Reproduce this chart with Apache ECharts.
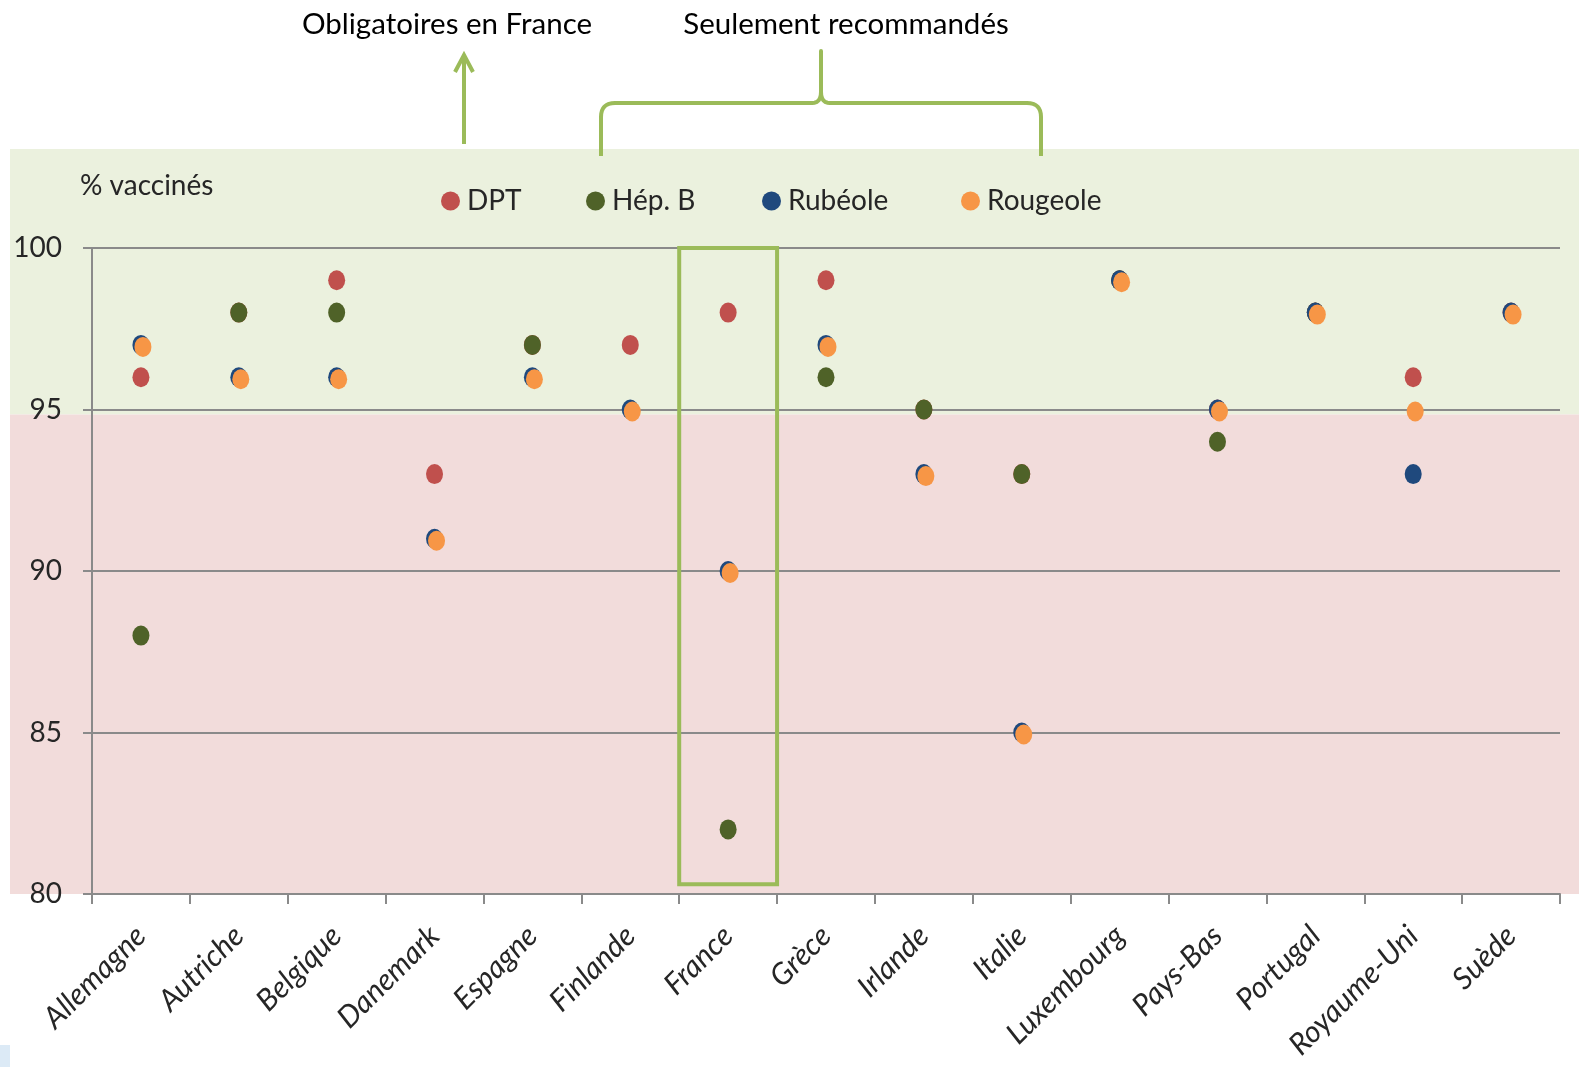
<!DOCTYPE html>
<html>
<head>
<meta charset="utf-8">
<script src="https://cdn.jsdelivr.net/npm/echarts@6/dist/echarts.min.js"></script>
<style>
html,body{margin:0;padding:0;background:#fff;}
#c{width:1579px;height:1067px;}
</style>
</head>
<body>
<div id="c"></div>
<script>
// ---- data ----
const categories = ['Allemagne','Autriche','Belgique','Danemark','Espagne','Finlande','France','Grèce','Irlande','Italie','Luxembourg','Pays-Bas','Portugal','Royaume-Uni','Suède'];
const dpt      = [96, 98, 99, 93, 97, 97, 98, 99, 95, 93, 99, 95, 98, 96, 98];
const hepB     = [88, 98, 98, '-', 97, '-', 82, 96, 95, 93, 99, 94, 98, '-', '-'];
const rubeole  = [97, 96, 96, 91, 96, 95, 90, 97, 93, 85, 99, 95, 98, 93, 98];
const rougeole = [97, 96, 96, 91, 96, 95, 90, 97, 93, 85, 99, 95, 98, 95, 98];
const yTicks = [80, 85, 90, 95, 100];
const seriesNames = ['DPT', 'Hép. B', 'Rubéole', 'Rougeole'];

const FONT = 'Lato';
const TXT = '#262626';
const colors = ['#C0504D', '#4F6228', '#1F497D', '#F79646'];
const accent = '#9BBB59';

const chart = echarts.init(document.getElementById('c'), null, {renderer: 'canvas'});

function legendFor(i, left) {
  return {
    data: [seriesNames[i]], left: left, top: 187, padding: 0,
    icon: 'circle', itemWidth: 19, itemHeight: 19, itemGap: 0,
    textStyle: {fontFamily: FONT, fontSize: 28, color: TXT, padding: [0, 0, 0, 2]},
    selectedMode: false
  };
}

function scatter(i, data, extra) {
  return Object.assign({
    name: seriesNames[i], type: 'scatter', data: data, symbol: 'circle', symbolSize: [17, 20],
    itemStyle: {color: colors[i], opacity: 1}, z: 3 + i
  }, extra || {});
}

const option = {
  animation: false,
  backgroundColor: '#fff',
  textStyle: {fontFamily: FONT},
  grid: {left: 92, right: 19, top: 248, bottom: 173, containLabel: false},
  legend: [legendFor(0, 441), legendFor(1, 586), legendFor(2, 762), legendFor(3, 961)],
  xAxis: {
    type: 'category', data: categories, boundaryGap: true,
    axisLine: {lineStyle: {color: '#8a8a8a', width: 2}},
    axisTick: {show: true, length: 10, lineStyle: {color: '#8a8a8a', width: 2}},
    axisLabel: {rotate: 45, margin: 37, fontFamily: FONT, fontSize: 30, color: TXT, fontStyle: 'italic'}
  },
  yAxis: {
    type: 'value', min: yTicks[0], max: yTicks[yTicks.length - 1], interval: 5,
    axisLine: {show: true, lineStyle: {color: '#8a8a8a', width: 2}},
    axisTick: {show: true, length: 9, lineStyle: {color: '#8a8a8a', width: 2}},
    axisLabel: {margin: 30, fontFamily: FONT, fontSize: 28, color: TXT},
    splitLine: {show: true, lineStyle: {color: '#8a8a8a', width: 2}}
  },
  series: [
    scatter(0, dpt),
    scatter(1, hepB),
    scatter(2, rubeole),
    scatter(3, rougeole, {symbolOffset: [2, 2]})
  ]
};
chart.setOption(option);

// ---- annotations positioned from the axes ----
const y95 = chart.convertToPixel({yAxisIndex: 0}, 95);
const y80 = chart.convertToPixel({yAxisIndex: 0}, 80);
const y100 = chart.convertToPixel({yAxisIndex: 0}, 100);
const yRectBottom = chart.convertToPixel({yAxisIndex: 0}, 80.3);
const xFr = chart.convertToPixel({xAxisIndex: 0}, 'France');
const xFr2 = chart.convertToPixel({xAxisIndex: 0}, 'Grèce');
const band = xFr2 - xFr;

// quadratic curve helper for the brace outline
function quad(p0, p1, p2, n) {
  const pts = [];
  for (let k = 1; k <= n; k++) {
    const t = k / n, u = 1 - t;
    pts.push([u * u * p0[0] + 2 * u * t * p1[0] + t * t * p2[0], u * u * p0[1] + 2 * u * t * p1[1] + t * t * p2[1]]);
  }
  return pts;
}
let brace = [[601, 156], [601, 117]];
brace = brace.concat(quad([601, 117], [601, 103], [615, 103], 8));
brace.push([812, 103]);
brace = brace.concat(quad([812, 103], [821, 103], [821, 92], 6));
brace.push([821, 51]);
brace.push([821, 92]);
brace = brace.concat(quad([821, 92], [821, 103], [830, 103], 6));
brace.push([1027, 103]);
brace = brace.concat(quad([1027, 103], [1041, 103], [1041, 117], 8));
brace.push([1041, 156]);

chart.setOption({
  graphic: [
    {type: 'rect', silent: true, z: -10, shape: {x: 10, y: 149, width: 1569, height: y95 + 5 - 149}, style: {fill: '#EBF1DE'}},
    {type: 'rect', silent: true, z: -10, shape: {x: 10, y: y95 + 5, width: 1569, height: y80 - y95 - 5}, style: {fill: '#F2DCDB'}},
    {type: 'rect', silent: true, z: -10, shape: {x: 0, y: 1045, width: 10, height: 22}, style: {fill: '#DCEAF6'}},
    {type: 'rect', z: 100, shape: {x: xFr - band / 2, y: y100, width: band, height: yRectBottom - y100},
      style: {fill: 'none', stroke: accent, lineWidth: 4}},
    {type: 'text', z: 100, x: 80, y: 186, style: {text: '% vaccinés', font: '28px Lato', fill: TXT, textAlign: 'left', textVerticalAlign: 'middle'}},
    {type: 'text', z: 100, x: 447, y: 24, style: {text: 'Obligatoires en France', font: '29.5px Lato', fill: '#000', textAlign: 'center', textVerticalAlign: 'middle'}},
    {type: 'text', z: 100, x: 846, y: 24, style: {text: 'Seulement recommandés', font: '29.5px Lato', fill: '#000', textAlign: 'center', textVerticalAlign: 'middle'}},
    {type: 'line', z: 100, shape: {x1: 464, y1: 144, x2: 464, y2: 56}, style: {stroke: accent, lineWidth: 4}},
    {type: 'polyline', z: 100, shape: {points: [[455, 72], [464, 55], [473, 72]]}, style: {stroke: accent, lineWidth: 4, fill: 'none'}},
    {type: 'polyline', z: 100, shape: {points: brace}, style: {stroke: accent, lineWidth: 4, fill: 'none', lineJoin: 'round'}}
  ]
});
</script>
</body>
</html>
